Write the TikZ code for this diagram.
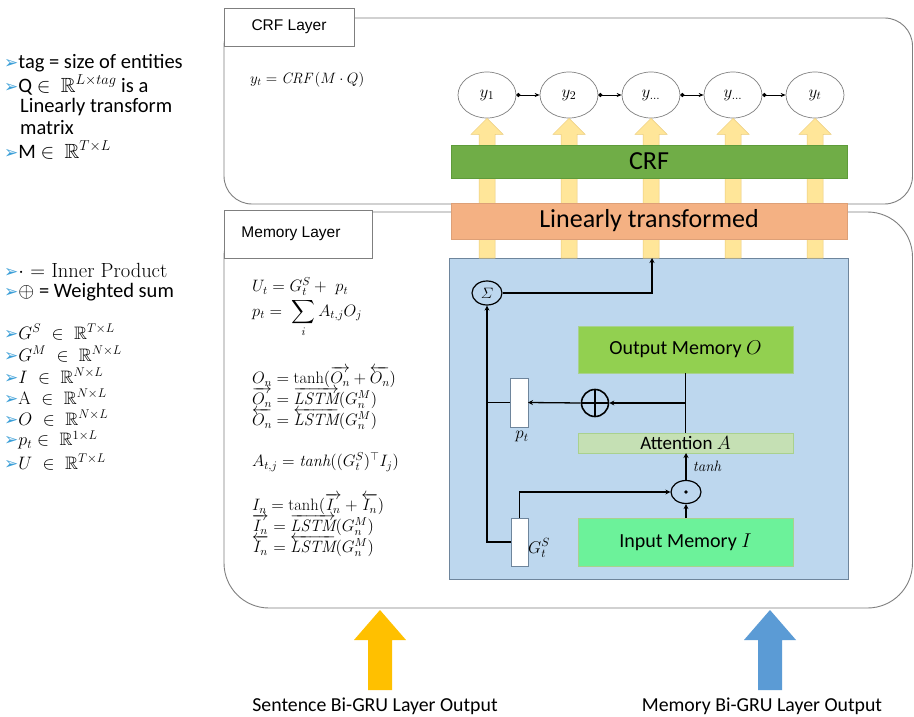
\RequirePackage{fix-cm}
\documentclass[tikz,border=0pt]{standalone}
\usepackage{amsmath,amssymb}
\usepackage{fontspec}
\usetikzlibrary{arrows.meta,shapes.geometric,calc}
\newfontfamily\calib{Carlito}
\newfontfamily\arialf{Liberation Sans}
\newfontfamily\djv{DejaVu Sans}
\definecolor{bulc}{HTML}{3C9FD8}
\definecolor{lyfill}{HTML}{FFE699}
\definecolor{lydraw}{HTML}{EBCB7A}
\definecolor{crfg}{HTML}{70AD47}
\definecolor{crfd}{HTML}{5E9B3A}
\definecolor{linf}{HTML}{F4B183}
\definecolor{lind}{HTML}{DDA077}
\definecolor{bluef}{HTML}{BDD7EE}
\definecolor{blued}{HTML}{6E859C}
\definecolor{outf}{HTML}{92D050}
\definecolor{attf}{HTML}{C5E0B4}
\definecolor{inpf}{HTML}{6CF29A}
\definecolor{boxd}{HTML}{A9D18E}
\definecolor{bigy}{HTML}{FFC000}
\definecolor{bigb}{HTML}{5B9BD5}
\definecolor{layd}{HTML}{7F7F7F}
\newcommand\bul{{\djv\color{bulc}\fontsize{17}{19}\selectfont\char"27A2}}
\begin{document}
\begin{tikzpicture}[x=1pt,y=-1pt,
  lay/.style={draw=layd, line width=0.9pt},
  tagbox/.style={draw=layd, fill=white, line width=0.9pt, inner sep=0, outer sep=0,
    font=\arialf\fontsize{15.5}{17}\selectfont, anchor=north west},
  yel/.style={ellipse, draw=gray, line width=0.7pt, minimum width=58, minimum height=46, inner sep=0,
    font=\fontsize{17}{19}\selectfont},
  chain/.style={{Circle[length=4pt]}-{Stealth[length=5pt,width=4pt]}, line width=0.9pt},
  lya/.style={fill=lyfill, draw=lydraw, line width=0.5pt},
  bar/.style={anchor=north west, inner sep=0, outer sep=0, minimum width=396},
  blk/.style={anchor=north west, inner sep=0, outer sep=0, minimum width=215, draw=boxd, line width=0.8pt,
    font=\calib\fontsize{20}{22}\selectfont},
  wbox/.style={anchor=north west, inner sep=0, outer sep=0, draw=blued, fill=white, line width=0.7pt},
  con/.style={line width=1.3pt, black},
  arr/.style={-{Stealth[length=5pt,width=5pt]}},
  leg/.style={anchor=west, inner sep=0, font=\calib\fontsize{20.5}{22}\selectfont},
  legm/.style={anchor=west, inner sep=0, font=\fontsize{18}{20}\selectfont},
  eq/.style={anchor=west, inner sep=0, font=\fontsize{16.5}{18}\selectfont},
  bot/.style={inner sep=0, font=\calib\fontsize{19.8}{22}\selectfont}
]
\useasboundingbox (0,0) rectangle (914,717);
\fill[white] (0,0) rectangle (914,717);

% legend
\node[leg] (l1) at (4,63) {\bul tag = size of entities};
\node[leg] (l2) at (4,85) {\bul Q $\in\ \mathbb{R}^{L\times tag}$ is a};
\node[leg] (l3) at (20,107) {Linearly transform};
\node[leg] (l4) at (20,128) {matrix};
\node[leg] (l5) at (4,150) {\bul M $\in\ \mathbb{R}^{T\times L}$};

\node[legm, font=\fontsize{20.5}{22}\selectfont] (m1) at (4,270) {\bul$\cdot$ = Inner Product};
\node[leg] (m2) at (4,292) {\bul$\oplus$ = Weighted sum};
\node[legm] (m3) at (4,332) {\bul$G^S\ \in\ \mathbb{R}^{T\times L}$};
\node[legm] (m4) at (4,354) {\bul$G^M\ \in\ \mathbb{R}^{N\times L}$};
\node[legm] (m5) at (4,376) {\bul$I\ \in\ \mathbb{R}^{N\times L}$};
\node[legm] (m6) at (4,397) {\bul$\mathrm{A}\ \in\ \mathbb{R}^{N\times L}$};
\node[legm] (m7) at (4,418) {\bul$O\ \in\ \mathbb{R}^{N\times L}$};
\node[legm] (m8) at (4,440) {\bul$p_t \in\ \mathbb{R}^{1\times L}$};
\node[legm] (m9) at (4,462) {\bul$U\ \in\ \mathbb{R}^{T\times L}$};

% layers
\draw[lay, rounded corners=28pt] (224,18) rectangle (912.5,204);
\draw[lay, rounded corners=45pt] (224,212) rectangle (912.5,608);
\node[tagbox, minimum width=130, minimum height=38] (crflab) at (224,8) {CRF Layer};
\node[tagbox, minimum width=148, minimum height=48] (memlab) at (224,210) {Memory Layer\hspace*{14pt}};

\node[eq, font=\fontsize{15}{17}\selectfont] (eqy) at (250,80) {$y_t = \mathit{CRF}\,(M\cdot Q)$};

% outputs
\node[yel] (y1) at (487,95) {$y_1$};
\node[yel] (y2) at (569,95) {$y_2$};
\node[yel] (y3) at (651,95) {$y_{\dots}$};
\node[yel] (y4) at (733,95) {$y_{\dots}$};
\node[yel] (y5) at (815,95) {$y_t$};
\draw[chain] (y1.east) -- (y2.west);
\draw[chain] (y2.east) -- (y3.west);
\draw[chain] (y3.east) -- (y4.west);
\draw[chain] (y4.east) -- (y5.west);

% blue box
\node[anchor=north west, inner sep=0, outer sep=0, minimum width=399, minimum height=321,
  fill=bluef, draw=blued, line width=0.8pt] (blue) at (449,258) {};

\foreach \n in {y1,y2,y3,y4,y5}{
  \filldraw[lya] (\n.south) -- ++(16,16) -- ++(-8,0) -- ($(\n.south |- blue.north)+(8,0)$)
    -- ++(-16,0) -- ($(\n.south)+(-8,16)$) -- ++(-8,0) -- cycle;
}

\node[bar, minimum height=33, fill=crfg, draw=crfd, line width=0.5pt,
  font=\calib\fontsize{26}{28}\selectfont] (crf) at (451,145) {CRF};
\node[bar, minimum height=36, fill=linf, draw=lind, line width=0.5pt,
  font=\calib\fontsize{26}{27}\selectfont] (lin) at (451,203) {Linearly transformed};

% memory equations
\node[eq] (e1) at (252,287) {$U_t = G_t^S +\ p_t$};
\node[eq] (e2) at (252,318) {$p_t =\ \displaystyle\sum_i A_{t,j}O_j$};
\node[eq] (e3) at (252,377) {$O_n = \tanh(\overrightarrow{O_n} + \overleftarrow{O_n})$};
\node[eq] (e4) at (252,398) {$\overrightarrow{O_n} = \overrightarrow{\mathit{LSTM}}(G_n^M)$};
\node[eq] (e5) at (252,419) {$\overleftarrow{O_n} = \overleftarrow{\mathit{LSTM}}(G_n^M)$};
\node[eq] (e6) at (252,462) {$A_{t,j} = \mathit{tanh}((G_t^S)^{\top} I_j)$};
\node[eq] (e7) at (252,504) {$I_n = \tanh(\overrightarrow{I_n} + \overleftarrow{I_n})$};
\node[eq] (e8) at (252,525) {$\overrightarrow{I_n} = \overrightarrow{\mathit{LSTM}}(G_n^M)$};
\node[eq] (e9) at (252,546) {$\overleftarrow{I_n} = \overleftarrow{\mathit{LSTM}}(G_n^M)$};

% inner blocks
\node[blk, minimum height=47, fill=outf] (out) at (578,326) {Output Memory $O$};
\node[blk, minimum height=20, fill=attf, font=\calib\fontsize{19}{20}\selectfont] (att) at (578,433) {Attention $A$};
\node[blk, minimum height=48, fill=inpf] (inp) at (578,518) {Input Memory $I$};
\node[wbox, minimum width=18, minimum height=49] (pbox) at (510,378) {};
\node[wbox, minimum width=17, minimum height=48] (gbox) at (511,518) {};
\node[anchor=north, inner sep=0, font=\fontsize{17}{19}\selectfont] (plab) at (522,431) {$p_t$};
\node[anchor=west, inner sep=0, font=\fontsize{17}{19}\selectfont] (glab) at (528,548) {$G_t^S$};

\node[ellipse, draw, line width=1.2pt, minimum width=30, minimum height=24, inner sep=0,
  font=\fontsize{15}{17}\selectfont] (sig) at (487,293) {$\varSigma$};
\node[circle, draw, line width=1.6pt, minimum size=27, inner sep=0,
  path picture={\draw[line width=1.6pt] (path picture bounding box.north) -- (path picture bounding box.south)
  (path picture bounding box.west) -- (path picture bounding box.east);}] (plus) at (595,403) {};
\node[ellipse, draw, line width=1.2pt, minimum width=30, minimum height=23, inner sep=0,
  path picture={\fill (path picture bounding box.center) circle (1.8pt);}] (dot) at (686,492) {};

\coordinate (sigtop) at (652,258);
\coordinate (br) at (out.south |- plus.east);
\draw[con, arr] (sig.east) -| (sigtop);
\draw[con, arr] (gbox.west) -| (sig.south);
\draw[con] (pbox.west) -- (pbox.west -| sig.south);
\draw[con, arr] (gbox.north) |- (dot.west);
\draw[con, arr] (dot.south |- inp.north) -- (dot.south);
\draw[con, arr] (dot.north) -- (dot.north |- att.south)
  node[midway, right=3pt, font=\fontsize{15}{17}\selectfont] (tanh) {$\mathit{tanh}$};
\draw[con] (out.south) -- (att.north);
\draw[con, arr] (br) -- (plus.east);
\draw[con, arr] (plus.west) -- (pbox.east);

% bottom arrows
\fill[bigy] (380,610) -- (406,640) -- (392,640) -- (392,690) -- (368,690) -- (368,640) -- (354,640) -- cycle;
\fill[bigb] (770,610) -- (796,640) -- (782,640) -- (782,690) -- (758,690) -- (758,640) -- (744,640) -- cycle;
\node[bot] (s1) at (375,706) {Sentence Bi-GRU Layer Output};
\node[bot] (s2) at (762,706) {Memory Bi-GRU Layer Output};
\end{tikzpicture}
\end{document}
